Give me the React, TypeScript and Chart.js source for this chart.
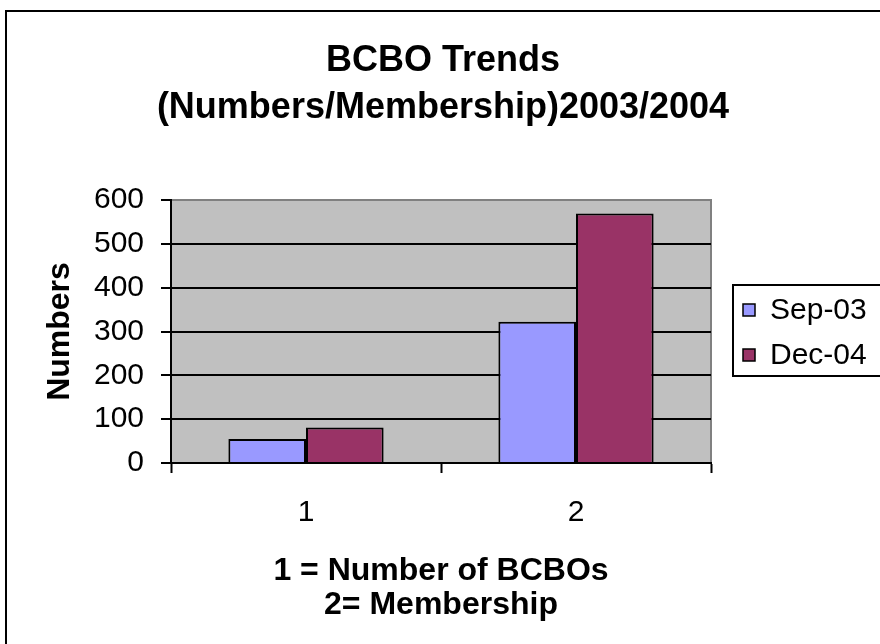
import React, { useEffect, useRef } from "react";
import { Chart, registerables } from "chart.js";

Chart.register(...registerables);

const categories = ["1", "2"];
const seriesLabels = ["Sep-03", "Dec-04"];
const sep03Values = [55, 322];
const dec04Values = [81, 569];
const seriesColors = ["#9999FF", "#993366"];
const yMin = 0;
const yMax = 600;
const yStep = 100;
const titleLines = ["BCBO Trends", "(Numbers/Membership)2003/2004"];
const yAxisTitle = "Numbers";
const xAxisTitleLines = ["1 = Number of BCBOs", "2= Membership"];

const FONT = "'Liberation Sans', Arial, Helvetica, sans-serif";

const framePlugin = {
  id: "frame",
  beforeDraw(chart: any) {
    const { ctx, chartArea } = chart;
    ctx.save();
    ctx.fillStyle = "#ffffff";
    ctx.fillRect(0, 0, chart.width, chart.height);
    ctx.strokeStyle = "#000";
    ctx.lineWidth = 2;
    ctx.strokeRect(6, 11, chart.width + 20, chart.height + 20);
    ctx.fillStyle = "#C0C0C0";
    ctx.fillRect(chartArea.left, chartArea.top, chartArea.right - chartArea.left, chartArea.bottom - chartArea.top);
    ctx.strokeStyle = "#808080";
    ctx.lineWidth = 2;
    ctx.strokeRect(chartArea.left, chartArea.top, chartArea.right - chartArea.left, chartArea.bottom - chartArea.top);
    ctx.restore();
  },
  afterDraw(chart: any) {
    const { ctx } = chart;
    ctx.save();
    ctx.strokeStyle = "#000";
    ctx.lineWidth = 2;
    ctx.fillStyle = "#fff";
    ctx.fillRect(733, 285, 160, 91);
    ctx.strokeRect(733, 285, 160, 91);
    ctx.font = `30px ${FONT}`;
    ctx.textBaseline = "middle";
    ctx.textAlign = "left";
    chart.data.datasets.forEach((ds: any, i: number) => {
      const y = 310 + i * 45;
      ctx.fillStyle = ds.backgroundColor;
      ctx.fillRect(743, y - 6, 12, 12);
      ctx.lineWidth = 1.5;
      ctx.strokeStyle = "#000";
      ctx.strokeRect(743, y - 6, 12, 12);
      ctx.fillStyle = "#000";
      ctx.fillText(ds.label, 770, y + 1);
    });
    ctx.restore();
  },
};

export default function App() {
  const canvasRef = useRef<HTMLCanvasElement | null>(null);

  useEffect(() => {
    if (!canvasRef.current) return;
    Chart.defaults.font.family = FONT;
    Chart.defaults.color = "#000";
    const chart = new Chart(canvasRef.current, {
      type: "bar",
      data: {
        labels: categories,
        datasets: [
          {
            label: seriesLabels[0],
            data: sep03Values,
            backgroundColor: seriesColors[0],
            borderColor: "#000",
            borderWidth: 2,
            yAxisID: "y",
          },
          {
            label: seriesLabels[1],
            data: dec04Values,
            backgroundColor: seriesColors[1],
            borderColor: "#000",
            borderWidth: 2,
            yAxisID: "y",
          },
        ],
      },
      options: {
        responsive: false,
        animation: false,
        devicePixelRatio: 1,
        layout: { padding: { left: 6, right: 0, top: 0, bottom: 22 } },
        datasets: {
          bar: { categoryPercentage: 0.575, barPercentage: 1 },
        },
        plugins: {
          legend: { display: false },
          tooltip: { enabled: false },
          title: {
            display: true,
            text: titleLines,
            color: "#000",
            font: { size: 36, weight: "bold", lineHeight: "47px" },
            padding: { top: 38, bottom: 68 },
          },
        },
        scales: {
          x: {
            afterFit: (s: any) => {
              s.height = 159;
            },
            grid: {
              display: true,
              drawOnChartArea: false,
              drawTicks: true,
              tickLength: 10,
              tickColor: "#000",
              tickWidth: 2,
              offset: true,
            },
            border: { display: true, color: "#000", width: 2 },
            ticks: { font: { size: 30 }, padding: 22, color: "#000" },
            title: {
              display: true,
              text: xAxisTitleLines,
              color: "#000",
              font: { size: 32, weight: "bold", lineHeight: "34px" },
              padding: { top: 0, bottom: 0 },
            },
          },
          y: {
            min: yMin,
            max: yMax,
            afterFit: (s: any) => {
              s.width = 165;
            },
            grid: {
              color: (c: any) => (c.tick && c.tick.value === yMax ? "#808080" : "#000"),
              lineWidth: 2,
              tickLength: 10,
              tickColor: "#000",
              tickWidth: 2,
            },
            border: { display: true, color: "#000", width: 2 },
            ticks: { stepSize: yStep, font: { size: 30 }, padding: 17, color: "#000" },
            title: {
              display: true,
              text: yAxisTitle,
              color: "#000",
              font: { size: 32, weight: "bold" },
              padding: { top: 35, bottom: 0 },
            },
          },
          yRight: {
            position: "right",
            display: true,
            afterFit: (s: any) => {
              s.width = 169;
            },
            grid: { display: false, drawTicks: false, drawOnChartArea: false },
            border: { display: false },
            ticks: { display: false },
          },
        },
      },
      plugins: [framePlugin],
    });
    return () => chart.destroy();
  }, []);

  return (
    <div style={{ position: "absolute", left: 0, top: 0, width: 880, height: 644, overflow: "hidden", background: "#fff" }}>
      <canvas ref={canvasRef} width={880} height={644} style={{ display: "block", width: 880, height: 644 }} />
    </div>
  );
}
